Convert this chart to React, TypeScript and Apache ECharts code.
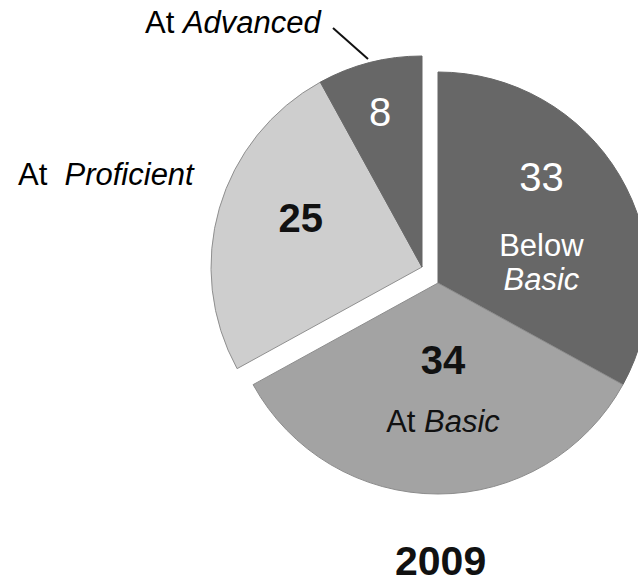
import { useEffect, useRef } from 'react';
import * as echarts from 'echarts';

// ---- data ----
const categories = ['Below Basic', 'At Basic', 'At Proficient', 'At Advanced'];
const levelPrefix = ['Below', 'At', 'At', 'At'];
const levelName = ['Basic', 'Basic', 'Proficient', 'Advanced'];
const values = [33, 34, 25, 8];
const year = '2009';

// which pie piece (group) each category belongs to: 0 = right part, 1 = pulled-out part
const groupOf = [0, 0, 1, 1];
const nameInside = [true, true, false, false];

// ---- styles ----
const FONT = '"Liberation Sans", Arial, Helvetica, sans-serif';
const sliceColors = ['#676767', '#a3a3a3', '#cecece', '#676767'];
const sliceBorders = ['#676767', '#8c8c8c', '#8f8f8f', '#676767'];
const textColors = ['#ffffff', '#111111', '#111111', '#ffffff'];
const valueWeights = ['normal', 'bold', 'bold', 'normal'];
const valueLineHeights = [104, 90, 44, 44];
const labelShift = [
  [10, -17],
  [5, -15],
  [-17, -19],
  [-15, -50],
];
const groupCenters = [
  [438, 283],
  [422, 267],
];
const RADIUS = 211;

function labelFor(i: number) {
  const c = textColors[i];
  let formatter = `{v|${values[i]}}`;
  if (nameInside[i]) {
    const sep = levelPrefix[i] === 'Below' ? '\n' : ' ';
    formatter += `\n{p|${levelPrefix[i]}}${sep === '\n' ? '\n' : '{p| }'}{n|${levelName[i]}}`;
  }
  return {
    show: true,
    position: 'inside',
    formatter,
    rich: {
      v: { fontFamily: FONT, fontSize: 40, fontWeight: valueWeights[i], color: c, lineHeight: valueLineHeights[i], align: 'center' },
      p: { fontFamily: FONT, fontSize: 31, color: c, lineHeight: 34 },
      n: { fontFamily: FONT, fontSize: 31, fontStyle: 'italic', color: c, lineHeight: 34 },
    },
  };
}

function makeSeries(group: number) {
  return {
    type: 'pie',
    center: groupCenters[group],
    radius: RADIUS,
    startAngle: 90,
    clockwise: true,
    silent: true,
    avoidLabelOverlap: false,
    emphasis: { disabled: true },
    labelLine: { show: false },
    labelLayout: (p: any) => {
      const s = labelShift[p.dataIndex];
      return { dx: s[0], dy: s[1] };
    },
    data: values.map((v, i) => {
      const on = groupOf[i] === group;
      return {
        name: categories[i],
        value: v,
        itemStyle: on
          ? { color: sliceColors[i], borderColor: sliceBorders[i], borderWidth: 1 }
          : { color: 'rgba(0,0,0,0)', borderWidth: 0 },
        label: on ? labelFor(i) : { show: false },
      };
    }),
  };
}

export default function App() {
  const ref = useRef<HTMLDivElement>(null);
  useEffect(() => {
    if (!ref.current) return;
    const chart = echarts.init(ref.current, undefined, { renderer: 'svg' });
    const annRich = {
      p: { fontFamily: FONT, fontSize: 31, color: '#111111' },
      n: { fontFamily: FONT, fontSize: 31, fontStyle: 'italic', color: '#111111' },
    };
    chart.setOption({
      animation: false,
      backgroundColor: '#ffffff',
      title: {
        text: year,
        left: 390,
        top: 535,
        textStyle: { fontFamily: FONT, fontSize: 41, fontWeight: 'bold', color: '#111111' },
      },
      series: [makeSeries(0), makeSeries(1)],
      graphic: [
        {
          type: 'text',
          x: 18,
          y: 174,
          style: {
            text: `{p|${levelPrefix[2]}  }{n|${levelName[2]}}`,
            rich: annRich,
            verticalAlign: 'middle',
            align: 'left',
          },
        },
        {
          type: 'text',
          x: 145,
          y: 22,
          style: {
            text: `{p|${levelPrefix[3]} }{n|${levelName[3]}}`,
            rich: annRich,
            verticalAlign: 'middle',
            align: 'left',
          },
        },
        {
          type: 'line',
          shape: { x1: 333, y1: 28, x2: 368, y2: 59 },
          style: { stroke: '#111111', lineWidth: 2 },
        },
      ],
    });
    return () => chart.dispose();
  }, []);
  return (
    <div
      ref={ref}
      style={{ position: 'fixed', left: 0, top: 0, width: 638, height: 582 }}
    />
  );
}
